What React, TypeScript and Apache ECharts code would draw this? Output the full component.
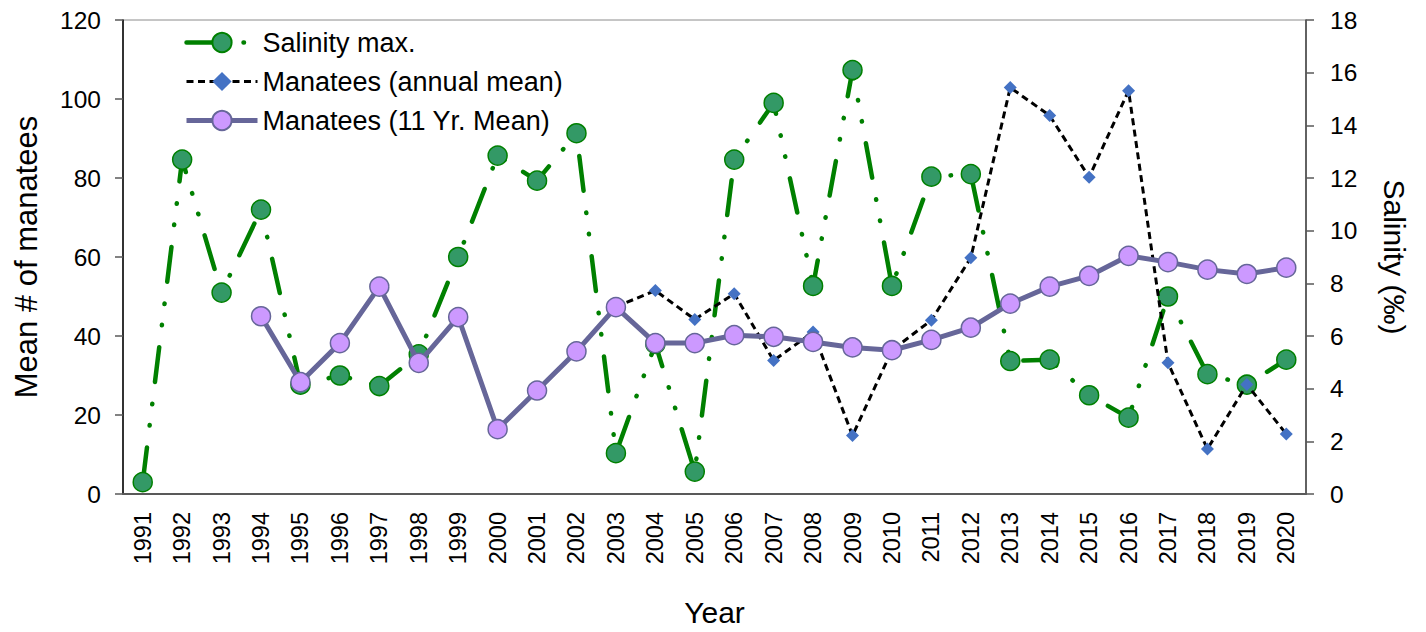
import React, { useEffect, useRef } from "react";
import * as echarts from "echarts";

const years = [
  "1991", "1992", "1993", "1994", "1995", "1996", "1997", "1998", "1999", "2000",
  "2001", "2002", "2003", "2004", "2005", "2006", "2007", "2008", "2009", "2010",
  "2011", "2012", "2013", "2014", "2015", "2016", "2017", "2018", "2019", "2020",
];

// Maximum salinity per year (‰), right axis
const salinityMax = [
  0.45, 12.7, 7.65, 10.8, 4.15, 4.5, 4.1, 5.3, 9.0, 12.85,
  11.9, 13.7, 1.55, 5.7, 0.85, 12.7, 14.85, 7.9, 16.1, 7.9,
  12.05, 12.15, 5.05, 5.1, 3.75, 2.9, 7.5, 4.55, 4.15, 5.1,
];

// Annual mean manatee count, left axis (surveyed from 2003)
const manateesAnnual = [
  null, null, null, null, null, null, null, null, null, null,
  null, null, 47.4, 51.5, 44.2, 50.7, 33.8, 41.0, 14.8, 36.4,
  44.0, 59.8, 102.9, 95.8, 80.2, 102.1, 33.2, 11.4, 27.7, 15.2,
];

// 11-year mean manatee count, left axis
const manatees11yr = [
  null, null, null, 45.0, 28.3, 38.2, 52.5, 33.2, 44.8, 16.4,
  26.2, 36.1, 47.3, 38.2, 38.2, 40.2, 39.8, 38.5, 37.1, 36.4,
  39.0, 42.1, 48.2, 52.5, 55.2, 60.3, 58.7, 56.8, 55.7, 57.3,
];

const leftTicks = { min: 0, max: 120, interval: 20 };
const rightTicks = { min: 0, max: 18, interval: 2 };

const FONT = "'Liberation Sans', Arial, sans-serif";

// long dash, dot, dot
const salinityLine = {
  color: "#008000",
  width: 4.5,
  type: [35, 22, 0.5, 21, 0.5, 22],
  cap: "round",
};
const annualLine = { color: "#000", width: 3, type: [7, 4.5] };
const meanLine = { color: "#666699", width: 5 };

export default function App() {
  const ref = useRef<HTMLDivElement>(null);

  useEffect(() => {
    document.body.style.margin = "0";
    if (!ref.current) return;
    const chart = echarts.init(ref.current, undefined, { renderer: "svg" });
    chart.setOption({
      animation: false,
      textStyle: { fontFamily: FONT, color: "#000" },
      grid: {
        left: 123,
        right: 120,
        top: 20,
        bottom: 132,
        show: true,
        borderColor: "#8c8c8c",
        borderWidth: 1,
      },
      legend: {
        orient: "vertical",
        left: 179,
        top: 24,
        itemWidth: 71,
        itemHeight: 24,
        itemGap: 12,
        textStyle: { fontFamily: FONT, fontSize: 27, color: "#000", lineHeight: 27 },
        data: [
          { name: "Salinity max.", lineStyle: salinityLine },
          { name: "Manatees (annual mean)", lineStyle: annualLine },
          { name: "Manatees (11 Yr. Mean)", lineStyle: meanLine },
        ],
      },
      xAxis: {
        type: "category",
        data: years,
        boundaryGap: true,
        name: "Year",
        nameLocation: "middle",
        nameGap: 103,
        nameTextStyle: { fontFamily: FONT, fontSize: 30, color: "#000" },
        axisLine: { lineStyle: { color: "#595959", width: 2 } },
        axisTick: { length: 8, lineStyle: { color: "#808080", width: 2 } },
        axisLabel: {
          rotate: 90,
          margin: 18,
          fontSize: 23.5,
          color: "#000",
          fontFamily: FONT,
          interval: 0,
        },
      },
      yAxis: [
        {
          type: "value",
          ...leftTicks,
          name: "Mean # of manatees",
          nameLocation: "middle",
          nameRotate: 90,
          nameGap: 81,
          nameTextStyle: { fontFamily: FONT, fontSize: 31, color: "#000" },
          axisLine: { show: true, lineStyle: { color: "#000", width: 1.5 } },
          axisTick: { show: true, length: 8, lineStyle: { color: "#595959", width: 1.5 } },
          axisLabel: { fontSize: 24.5, color: "#000", margin: 22, fontFamily: FONT },
          splitLine: { show: false },
        },
        {
          type: "value",
          ...rightTicks,
          position: "right",
          name: "Salinity (‰)",
          nameLocation: "middle",
          nameRotate: -90,
          nameGap: 73,
          nameTextStyle: { fontFamily: FONT, fontSize: 30, color: "#000" },
          axisLine: { show: true, lineStyle: { color: "#404040", width: 1.5 } },
          axisTick: { show: true, length: 8, lineStyle: { color: "#595959", width: 1.5 } },
          axisLabel: { fontSize: 24.5, color: "#000", margin: 24, fontFamily: FONT },
          splitLine: { show: false },
        },
      ],
      series: [
        {
          name: "Salinity max.",
          type: "line",
          yAxisIndex: 1,
          data: salinityMax,
          symbol: "circle",
          symbolSize: 19,
          z: 2,
          lineStyle: salinityLine,
          itemStyle: { color: "#339966", borderColor: "#008000", borderWidth: 1.5 },
        },
        {
          name: "Manatees (annual mean)",
          type: "line",
          yAxisIndex: 0,
          data: manateesAnnual,
          symbol: "diamond",
          symbolSize: 13,
          z: 3,
          lineStyle: annualLine,
          itemStyle: { color: "#4472c4", borderWidth: 0 },
        },
        {
          name: "Manatees (11 Yr. Mean)",
          type: "line",
          yAxisIndex: 0,
          data: manatees11yr,
          symbol: "circle",
          symbolSize: 19,
          z: 4,
          lineStyle: meanLine,
          itemStyle: { color: "#cc99ff", borderColor: "#666699", borderWidth: 1.5 },
        },
      ],
    });
    return () => chart.dispose();
  }, []);

  return <div ref={ref} style={{ width: 1426, height: 632 }} />;
}
